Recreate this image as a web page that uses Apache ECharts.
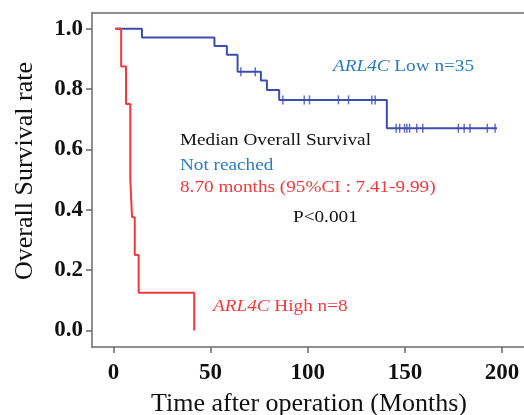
<!DOCTYPE html>
<html>
<head>
<meta charset="utf-8">
<script src="https://cdn.jsdelivr.net/npm/echarts@6.0.0/dist/echarts.min.js"></script>
<style>
    html, body { margin: 0; padding: 0; background: #fff; }
    #chart { width: 524px; height: 415px; }
</style>
</head>
<body>
<div id="chart"></div>
<script>
// ARL4C Low (n=35): step times (months) and survival after each step
const lowTimes = [1, 14.7, 52, 58.4, 63.9, 75.9, 79, 85.3, 140.7, 197.4];
const lowSurvival = [1.0, 0.971, 0.943, 0.914, 0.857, 0.828, 0.797, 0.764, 0.670, 0.670];
// censored follow-up times of the Low group
const lowCensored = [65.6, 73, 87.2, 98.2, 100.9, 115.8, 121, 133, 134.7, 145.5, 147.3,
    149.8, 151, 152.4, 156.1, 159.2, 177.5, 180.5, 183.5, 192.4, 196.4];
// ARL4C High (n=8)
const highTimes = [1, 4, 6.5, 8.7, 9.6, 11, 13, 41.6];
const highSurvival = [1.0, 0.875, 0.75, 0.5, 0.375, 0.25, 0.125, 0];

const xTicks = [0, 50, 100, 150, 200];
const yTicks = [0, 0.2, 0.4, 0.6, 0.8, 1.0];

const BLUE_LINE = '#3d4eae';
const BLUE_TEXT = '#2a7cc2';
const RED = '#f23a3c';
const AXIS = '#6a6a6a';
const SERIF = '"Liberation Serif", "Times New Roman", serif';

// survival value of a step curve at time t
function survivalAt(times, surv, t) {
    let s = surv[0];
    for (let i = 0; i < times.length; i++) {
        if (times[i] <= t) {
            s = surv[i];
        }
    }
    return s;
}

const zip = (a, b) => a.map((v, i) => [v, b[i]]);

// annotation text, stretched a little in x like the source figure
function note(x, y, text, fill, rich) {
    return {
        type: 'text',
        x: x,
        y: y,
        scaleX: 1.13,
        style: {
            text: text,
            fill: fill,
            fontFamily: SERIF,
            fontSize: 17,
            verticalAlign: 'middle',
            rich: rich
        }
    };
}

const italic = color => ({
    i: {fontStyle: 'italic', fontFamily: SERIF, fontSize: 17, fill: color}
});

const axisLine = {show: true, onZero: false, lineStyle: {color: AXIS, width: 1.5}};

const chart = echarts.init(document.getElementById('chart'));

chart.setOption({
    animation: false,
    backgroundColor: '#fff',
    grid: {
        left: 92,
        top: 13,
        right: -2,
        bottom: 68,
        outerBoundsMode: 'none'
    },
    xAxis: [
        {
            type: 'value',
            min: -11,
            max: 212.3,
            axisLine: axisLine,
            splitLine: {show: false},
            axisTick: {
                show: true,
                inside: false,
                length: 6,
                customValues: xTicks,
                lineStyle: {color: AXIS, width: 1.5}
            },
            axisLabel: {
                customValues: xTicks,
                margin: 15,
                color: '#111',
                fontFamily: SERIF,
                fontWeight: 'bold',
                fontSize: 23
            },
            name: 'Time after operation (Months)',
            nameLocation: 'middle',
            nameGap: 44,
            nameTextStyle: {color: '#111', fontFamily: SERIF, fontSize: 26}
        },
        {
            // top border of the frame
            type: 'value',
            position: 'top',
            min: -11,
            max: 212.3,
            axisLine: axisLine,
            axisTick: {show: false},
            axisLabel: {show: false},
            splitLine: {show: false}
        }
    ],
    yAxis: {
        type: 'value',
        min: -0.055,
        max: 1.052,
        axisLine: axisLine,
        splitLine: {show: false},
        axisTick: {
            show: true,
            inside: false,
            length: 6,
            customValues: yTicks,
            lineStyle: {color: AXIS, width: 1.5}
        },
        axisLabel: {
            customValues: yTicks,
            margin: 9,
            formatter: v => v.toFixed(1),
            color: '#111',
            fontFamily: SERIF,
            fontWeight: 'bold',
            fontSize: 23
        },
        name: 'Overall Survival rate',
        nameLocation: 'middle',
        nameRotate: 90,
        nameGap: 54,
        nameTextStyle: {color: '#111', fontFamily: SERIF, fontSize: 26, padding: [0, 0, 0, 18]}
    },
    series: [
        {
            type: 'line',
            step: 'end',
            symbol: 'none',
            data: zip(lowTimes, lowSurvival),
            lineStyle: {color: BLUE_LINE, width: 2}
        },
        {
            type: 'scatter',
            symbol: 'rect',
            symbolSize: [1.5, 9],
            data: lowCensored.map(t => [t, survivalAt(lowTimes, lowSurvival, t)]),
            itemStyle: {color: BLUE_LINE}
        },
        {
            type: 'line',
            step: 'end',
            symbol: 'none',
            data: zip(highTimes, highSurvival),
            lineStyle: {color: RED, width: 2}
        }
    ],
    graphic: [
        note(333, 67, '{i|ARL4C} Low n=35', BLUE_TEXT, italic(BLUE_TEXT)),
        note(180, 141, 'Median Overall Survival', '#111'),
        note(180, 166, 'Not reached', BLUE_TEXT),
        note(180, 188, '8.70 months (95%CI : 7.41-9.99)', RED),
        note(293, 218, 'P<0.001', '#111'),
        note(213, 307, '{i|ARL4C} High n=8', RED, italic(RED))
    ]
});
</script>
</body>
</html>
